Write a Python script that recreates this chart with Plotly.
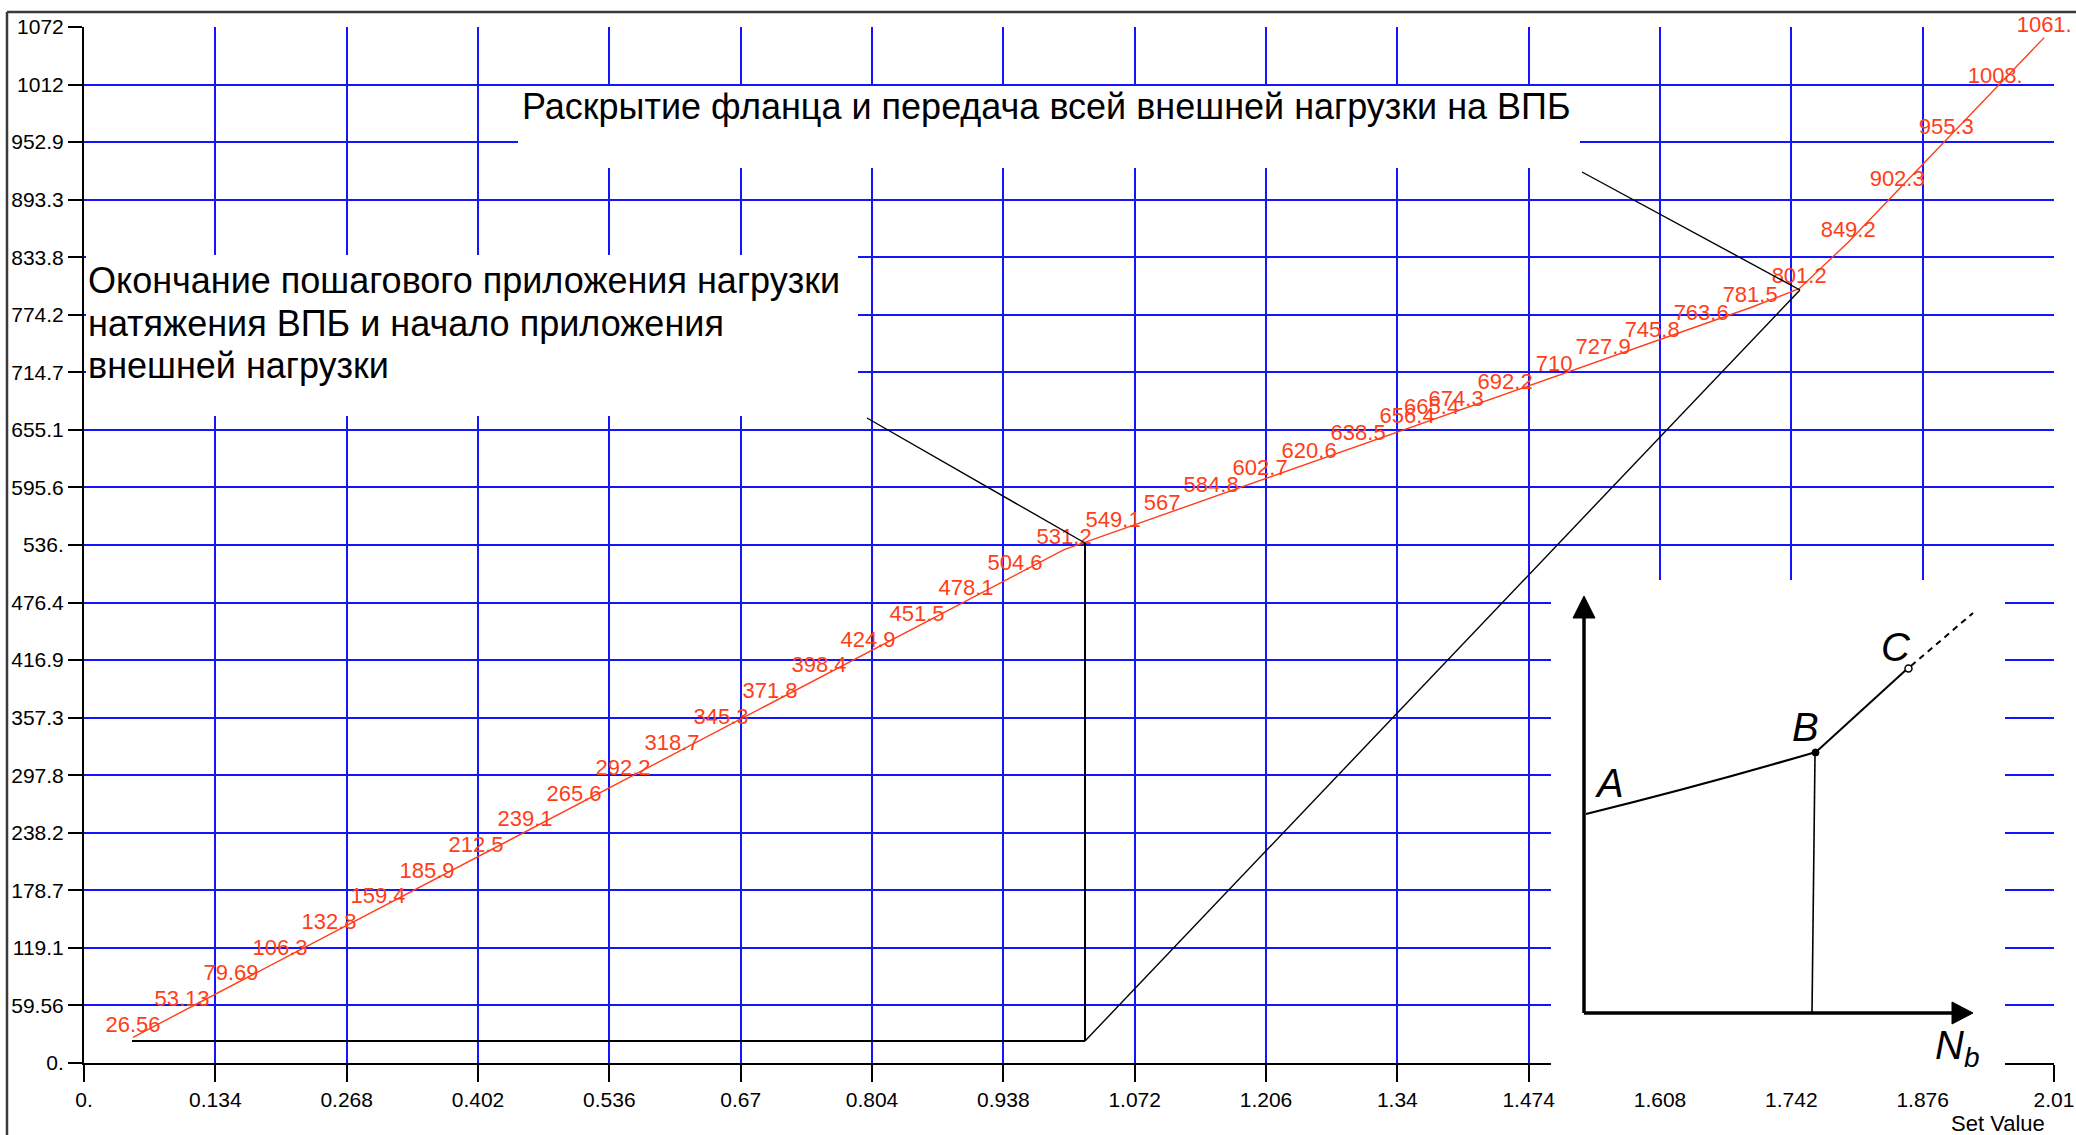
import plotly.graph_objects as go

# ---------------- data ----------------
set_values = [0.05, 0.10, 0.15, 0.20, 0.25, 0.30, 0.35, 0.40, 0.45, 0.50,
              0.55, 0.60, 0.65, 0.70, 0.75, 0.80, 0.85, 0.90, 0.95, 1.00,
              1.05, 1.10, 1.15, 1.20, 1.25, 1.30, 1.35, 1.375, 1.40, 1.45,
              1.50, 1.55, 1.60, 1.65, 1.70, 1.75, 1.80, 1.85, 1.90, 1.95, 2.00]
bolt_force = [26.56, 53.13, 79.69, 106.3, 132.8, 159.4, 185.9, 212.5, 239.1, 265.6,
              292.2, 318.7, 345.3, 371.8, 398.4, 424.9, 451.5, 478.1, 504.6, 531.2,
              549.1, 567, 584.8, 602.7, 620.6, 638.5, 656.4, 665.4, 674.3, 692.2,
              710, 727.9, 745.8, 763.6, 781.5, 801.2, 849.2, 902.3, 955.3, 1008, 1061]
point_labels = ["26.56", "53.13", "79.69", "106.3", "132.8", "159.4", "185.9", "212.5", "239.1", "265.6",
                "292.2", "318.7", "345.3", "371.8", "398.4", "424.9", "451.5", "478.1", "504.6", "531.2",
                "549.1", "567", "584.8", "602.7", "620.6", "638.5", "656.4", "665.4", "674.3", "692.2",
                "710", "727.9", "745.8", "763.6", "781.5", "801.2", "849.2", "902.3", "955.3", "1008.", "1061."]
x_tick_labels = ["0.", "0.134", "0.268", "0.402", "0.536", "0.67", "0.804", "0.938", "1.072",
                 "1.206", "1.34", "1.474", "1.608", "1.742", "1.876", "2.01"]
y_tick_labels = ["0.", "59.56", "119.1", "178.7", "238.2", "297.8", "357.3", "416.9", "476.4", "536.",
                 "595.6", "655.1", "714.7", "774.2", "833.8", "893.3", "952.9", "1012", "1072"]
x_range = [0, 2.01]
y_range = [0, 1072]

note_top = "Раскрытие фланца и передача всей внешней нагрузки на ВПБ"
note_left = ["Окончание пошагового приложения нагрузки",
             "натяжения ВПБ и начало приложения",
             "внешней нагрузки"]

# ---------------- layout geometry ----------------
W, H = 2076, 1135
L, R, T, B = 84, 22, 27, 72
PW, PH = W - L - R, H - T - B

def fx(xp):
    return (xp - L) / PW

def fy(yp):
    return (H - B - yp) / PH

FONT = "Liberation Sans, Arial, sans-serif"
ORANGE = "rgb(255,62,24)"
BLUE = "rgb(20,20,255)"

fig = go.Figure()
fig.add_trace(go.Scatter(
    x=set_values, y=bolt_force, mode="lines+text", text=point_labels,
    textposition="top center", cliponaxis=False,
    textfont=dict(family=FONT, size=22, color=ORANGE),
    line=dict(color=ORANGE, width=1.4), showlegend=False, hoverinfo="skip"))

shapes = []

def line(x0, y0, x1, y1, color="black", width=2, dash=None):
    d = dict(type="line", xref="paper", yref="paper",
             x0=fx(x0), y0=fy(y0), x1=fx(x1), y1=fy(y1),
             line=dict(color=color, width=width), layer="above")
    if dash:
        d["line"]["dash"] = dash
    shapes.append(d)

def rect(x0, y0, x1, y1, fill="white"):
    shapes.append(dict(type="rect", xref="paper", yref="paper",
                       x0=fx(x0), y0=fy(y0), x1=fx(x1), y1=fy(y1),
                       fillcolor=fill, line=dict(width=0), layer="above"))

# outer frame of the screenshot
line(7, 12, W, 12, color="#3a3a3a", width=2.5)
line(7, 12, 7, H, color="#3a3a3a", width=2.5)

# white boxes behind the notes and the inset sketch
rect(518, 86, 1580, 168)
rect(86, 255, 858, 416)
rect(1551, 580, 2005, 1082)

# construction lines
line(132, 1041, 1085, 1041, width=2)
line(1085, 1041, 1085, 543, width=2)
line(1085, 1041, 1800, 290, width=1.4)
line(867, 418, 1085, 543, width=1.4)
line(1582, 172, 1800, 290, width=1.4)

# inset sketch (A-B-C diagram)
line(1584, 1013, 1584, 612, width=3.5)
line(1584, 1013, 1958, 1013, width=3.5)
shapes.append(dict(type="path", xref="paper", yref="paper", layer="above",
                   path=f"M {fx(1584)},{fy(596)} L {fx(1573)},{fy(618)} L {fx(1595)},{fy(618)} Z",
                   fillcolor="black", line=dict(color="black", width=1)))
shapes.append(dict(type="path", xref="paper", yref="paper", layer="above",
                   path=f"M {fx(1973)},{fy(1013)} L {fx(1952)},{fy(1002)} L {fx(1952)},{fy(1024)} Z",
                   fillcolor="black", line=dict(color="black", width=1)))
shapes.append(dict(type="path", xref="paper", yref="paper", layer="above",
                   path=f"M {fx(1586)},{fy(814)} Q {fx(1700)},{fy(786)} {fx(1816)},{fy(752)}",
                   line=dict(color="black", width=2.2)))
line(1816, 752, 1907, 669, width=2)
line(1911, 666, 1973, 613, width=2, dash="6px,5px")
line(1815, 755, 1812, 1013, width=1.6)
shapes.append(dict(type="circle", xref="paper", yref="paper", layer="above",
                   x0=fx(1905), y0=fy(665), x1=fx(1912), y1=fy(672),
                   fillcolor="white", line=dict(color="black", width=1.5)))
shapes.append(dict(type="circle", xref="paper", yref="paper", layer="above",
                   x0=fx(1812), y0=fy(749), x1=fx(1819), y1=fy(756),
                   fillcolor="black", line=dict(color="black", width=1)))

annotations = []

def text(xp, yp, s, size, xanchor="center", color="black", italic=False):
    annotations.append(dict(x=fx(xp), y=fy(yp), xref="paper", yref="paper",
                            text=f"<i>{s}</i>" if italic else s, showarrow=False,
                            xanchor=xanchor, yanchor="middle",
                            font=dict(family=FONT, size=size, color=color)))

text(1046, 107, note_top, 36)
for i, s in enumerate(note_left):
    text(86, 281 + 42 * i, s, 36, xanchor="left")
text(1609, 783, "A", 40, italic=True)
text(1805, 727, "B", 40, italic=True)
text(1896, 647, "C", 40, italic=True)
text(1957, 1048, "N<sub>b</sub>", 40, italic=True)
text(2047, 1123, "Set Value", 22, xanchor="right")

fig.update_layout(
    width=W, height=H, margin=dict(l=L, r=R, t=T, b=B, autoexpand=False),
    paper_bgcolor="white", plot_bgcolor="white",
    shapes=shapes, annotations=annotations, showlegend=False,
    xaxis=dict(range=x_range, tickmode="array",
               tickvals=[float(v) for v in x_tick_labels], ticktext=x_tick_labels,
               showgrid=True, gridcolor=BLUE, gridwidth=2, zeroline=False,
               showline=True, linecolor="black", linewidth=2,
               ticks="outside", ticklen=17, tickwidth=2, tickcolor="black",
               tickfont=dict(family=FONT, size=21, color="black")),
    yaxis=dict(range=y_range, tickmode="array",
               tickvals=[float(v) for v in y_tick_labels], ticktext=y_tick_labels,
               showgrid=True, gridcolor=BLUE, gridwidth=2, zeroline=False,
               showline=True, linecolor="black", linewidth=2,
               ticks="outside", ticklen=14, tickwidth=2, tickcolor="black",
               tickfont=dict(family=FONT, size=21, color="black")),
)

fig.write_html("out.html", config={"displayModeBar": False})
